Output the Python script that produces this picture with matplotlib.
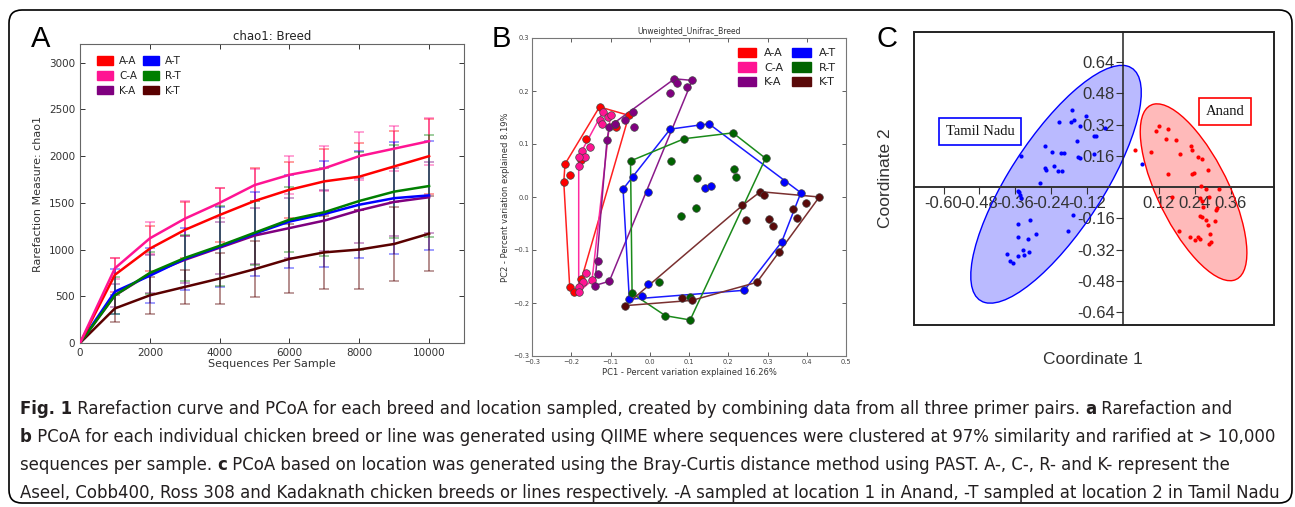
import numpy as np
import matplotlib
matplotlib.use("Agg")
import matplotlib.pyplot as plt
from matplotlib.patches import Ellipse, Rectangle, FancyBboxPatch, Patch
from matplotlib import font_manager

# ---------------- data: panel A (rarefaction) ----------------
seqs = [0, 1000, 2000, 3000, 4000, 5000, 6000, 7000, 8000, 9000, 10000]
groups_a = ["A-A", "C-A", "K-A", "A-T", "R-T", "K-T"]
chao_AA = [0, 730, 1010, 1210, 1370, 1520, 1640, 1730, 1780, 1890, 2000]
chao_CA = [0, 800, 1120, 1330, 1500, 1690, 1800, 1870, 2000, 2080, 2160]
chao_KA = [0, 510, 740, 890, 1020, 1150, 1230, 1310, 1420, 1510, 1560]
chao_AT = [0, 550, 720, 900, 1030, 1170, 1300, 1380, 1480, 1550, 1580]
chao_RT = [0, 510, 750, 910, 1040, 1180, 1320, 1400, 1520, 1620, 1680]
chao_KT = [0, 370, 510, 600, 690, 790, 900, 970, 1000, 1060, 1170]
err_AA = [0, 180, 240, 300, 290, 350, 300, 350, 360, 380, 400]
err_CA = [0, 110, 170, 190, 160, 170, 200, 240, 260, 240, 250]
err_KA = [0, 120, 200, 250, 280, 300, 320, 330, 350, 360, 380]
err_AT = [0, 240, 295, 330, 430, 450, 495, 565, 575, 600, 580]
err_RT = [0, 200, 225, 250, 430, 340, 350, 470, 520, 500, 550]
err_KT = [0, 140, 200, 180, 270, 300, 370, 390, 420, 400, 400]

# ---------------- data: panel B (PCoA per breed) ----------------
pc_AA_x = [-0.128, -0.053, -0.086, -0.162, -0.216, -0.203, -0.219, -0.204, -0.193, -0.174, -0.174, -0.088]
pc_AA_y = [0.170, 0.154, 0.133, 0.110, 0.062, 0.042, 0.028, -0.169, -0.180, -0.155, 0.070, 0.138]
pc_CA_x = [-0.119, -0.106, -0.100, -0.126, -0.121, -0.153, -0.173, -0.164, -0.181, -0.179, -0.162, -0.147, -0.169, -0.179, -0.181]
pc_CA_y = [0.161, 0.151, 0.155, 0.145, 0.138, 0.095, 0.087, 0.076, 0.076, 0.059, -0.143, -0.157, -0.161, -0.169, -0.179]
pc_KA_x = [0.063, 0.069, 0.108, 0.095, 0.051, -0.043, -0.062, -0.039, -0.103, -0.088, -0.109, -0.132, -0.133, -0.140, -0.103]
pc_KA_y = [0.223, 0.216, 0.220, 0.207, 0.196, 0.160, 0.145, 0.133, 0.133, 0.138, 0.107, -0.121, -0.146, -0.167, -0.159]
pc_AT_x = [0.052, 0.129, 0.151, 0.343, 0.385, 0.336, 0.241, 0.141, 0.156, -0.042, -0.068, -0.004, -0.005, -0.052, -0.019]
pc_AT_y = [0.128, 0.136, 0.138, 0.028, 0.008, -0.085, -0.176, 0.017, 0.021, 0.037, 0.015, 0.009, -0.164, -0.193, -0.187]
pc_RT_x = [0.088, 0.212, 0.295, 0.055, 0.120, 0.214, 0.220, 0.119, 0.079, 0.103, -0.049, 0.023, -0.045, 0.040, 0.103]
pc_RT_y = [0.110, 0.121, 0.073, 0.067, 0.035, 0.053, 0.037, -0.021, -0.035, -0.232, 0.068, -0.160, -0.182, -0.224, -0.189]
pc_KT_x = [0.282, 0.290, 0.236, 0.244, 0.305, 0.314, 0.366, 0.399, 0.375, 0.432, 0.329, 0.273, 0.083, 0.108, -0.063]
pc_KT_y = [0.010, 0.003, -0.016, -0.043, -0.042, -0.055, -0.022, -0.011, -0.039, 0.000, -0.103, -0.161, -0.190, -0.195, -0.205]

# ---------------- data: panel C (PCoA by location) ----------------
tn_x = [-0.172, -0.213, -0.175, -0.163, -0.123, -0.145, -0.098, -0.091, -0.262, -0.238, -0.207, -0.198,
        -0.154, -0.149, -0.145, -0.098, -0.341, -0.260, -0.258, -0.232, -0.216, -0.205, -0.279, -0.350,
        -0.347, -0.343, -0.342, -0.167, -0.310, -0.350, -0.351, -0.318, -0.291, -0.183, -0.334, -0.314,
        -0.332, -0.351, -0.388, -0.377, -0.368, -0.060, 0.065]
tn_y = [0.396, 0.333, 0.333, 0.345, 0.362, 0.314, 0.261, 0.261, 0.213, 0.181, 0.176, 0.174,
        0.237, 0.152, 0.147, 0.172, 0.162, 0.097, 0.089, 0.106, 0.085, 0.085, 0.022, -0.017,
        -0.027, -0.041, -0.056, -0.140, -0.169, -0.188, -0.254, -0.266, -0.241, -0.224, -0.323, -0.329,
        -0.346, -0.350, -0.341, -0.379, -0.387, 0.302, 0.119]
an_x = [0.039, 0.092, 0.109, 0.121, 0.152, 0.145, 0.176, 0.191, 0.227, 0.232, 0.252, 0.263, 0.152,
        0.230, 0.236, 0.283, 0.262, 0.279, 0.320, 0.165, 0.258, 0.287, 0.263, 0.315, 0.312, 0.267,
        0.258, 0.265, 0.279, 0.308, 0.283, 0.186, 0.225, 0.241, 0.252, 0.256, 0.290, 0.294, 0.289]
an_y = [0.189, 0.179, 0.288, 0.311, 0.297, 0.246, 0.242, 0.172, 0.212, 0.191, 0.155, 0.143, 0.068,
        0.067, 0.073, 0.090, 0.007, -0.007, -0.010, -0.051, -0.053, -0.049, -0.073, -0.108, -0.119, -0.099,
        -0.145, -0.150, -0.167, -0.171, -0.191, -0.222, -0.256, -0.270, -0.256, -0.263, -0.239, -0.278, -0.290]
# ellipses: centre x, centre y, full width, full height, angle
ell_tn = [-0.224, 0.015, 1.30, 0.34, 68.6]
ell_an = [0.236, -0.026, 0.94, 0.25, -73.7]
xt_c = [-0.60, -0.48, -0.36, -0.24, -0.12, 0.12, 0.24, 0.36]
yt_c = [0.64, 0.48, 0.32, 0.16, -0.16, -0.32, -0.48, -0.64]

# ---------------- styles ----------------
col_a = {"A-A": "#ff0000", "C-A": "#ff1493", "K-A": "#7f007f",
         "A-T": "#0000ff", "R-T": "#007f00", "K-T": "#5a0000"}
col_b_line = {"A-A": "#ff2020", "C-A": "#ff2aa0", "K-A": "#8a1a8a",
              "A-T": "#1a1aff", "R-T": "#1a8a1a", "K-T": "#7a3030"}
col_b_pt = {"A-A": "#ff0000", "C-A": "#ff1493", "K-A": "#800080",
            "A-T": "#0000ff", "R-T": "#006400", "K-T": "#5a0a0a"}

fonts = font_manager.fontManager.ttflist
names = {f.name for f in fonts}
arial = "Liberation Sans" if "Liberation Sans" in names else "DejaVu Sans"
serif = "Liberation Serif" if "Liberation Serif" in names else "DejaVu Serif"
cond = [f for f in fonts if ("condensed" in str(f.stretch).lower() or "Condensed" in f.name
                             or "Narrow" in f.name) and f.style == "normal"]
cond_reg = [f for f in cond if f.weight in (400, "normal", "regular")]
cond_bold = [f for f in cond if f.weight in (700, "bold")]
if cond_reg:
    reg_prop = font_manager.FontProperties(fname=cond_reg[0].fname)
    bold_src = [f for f in cond_bold if f.name == cond_reg[0].name]
    bold_prop = font_manager.FontProperties(fname=bold_src[0].fname) if bold_src else \
        font_manager.FontProperties(fname=cond_reg[0].fname, weight="bold")
    cap_size = 13.2
else:
    reg_prop = font_manager.FontProperties(family="DejaVu Sans")
    bold_prop = font_manager.FontProperties(family="DejaVu Sans", weight="bold")
    cap_size = 11.8

W, H = 1295, 507
fig = plt.figure(figsize=(W / 100, H / 100), dpi=100)

def fbox(l, r, t, b):
    return [l / W, (H - b) / H, (r - l) / W, (b - t) / H]

# outer rounded border
fig.patches.append(FancyBboxPatch((0.09, 0.04), 12.83, 4.93,
                                  boxstyle="round,pad=0,rounding_size=0.13",
                                  transform=fig.dpi_scale_trans, fill=False,
                                  edgecolor="black", linewidth=1.2))

# ================= Panel A =================
axA = fig.add_axes(fbox(80, 464, 44, 343))
series_a = {"A-A": (chao_AA, err_AA), "C-A": (chao_CA, err_CA), "K-A": (chao_KA, err_KA),
            "A-T": (chao_AT, err_AT), "R-T": (chao_RT, err_RT), "K-T": (chao_KT, err_KT)}
for g in ["A-A", "C-A", "K-A", "A-T", "R-T", "K-T"]:
    v, e = series_a[g]
    axA.errorbar(seqs[1:], v[1:], yerr=e[1:], fmt="none", ecolor=col_a[g], alpha=0.45,
                 elinewidth=1.4, capsize=3.5, capthick=1.2, zorder=2)
for g in ["K-T", "K-A", "A-T", "R-T", "A-A", "C-A"]:
    v, e = series_a[g]
    axA.plot(seqs, v, color=col_a[g], lw=1.8, zorder=3)
axA.set_xlim(0, 11000)
axA.set_ylim(0, 3200)
axA.set_xticks([0, 2000, 4000, 6000, 8000, 10000])
axA.set_yticks([0, 500, 1000, 1500, 2000, 2500, 3000])
axA.tick_params(direction="in", top=True, right=True, labelsize=7.5, colors="#333333",
                length=3.5, width=0.7)
for s in axA.spines.values():
    s.set_color("#666666")
    s.set_linewidth(0.8)
axA.set_title("chao1: Breed", fontsize=8.5, color="#222222", pad=3)
axA.set_xlabel("Sequences Per Sample", fontsize=8, color="#333333", labelpad=1)
axA.set_ylabel("Rarefaction Measure: chao1", fontsize=8, color="#333333", labelpad=4)
hA = [Patch(facecolor=col_a[g], edgecolor=col_a[g]) for g in groups_a]
axA.legend(hA, groups_a, ncol=2, loc="upper left", frameon=False, fontsize=7.5,
           handlelength=1.5, handleheight=0.9, columnspacing=0.6, handletextpad=0.6,
           labelspacing=0.45, bbox_to_anchor=(0.02, 0.99), labelcolor="#222222")

# ================= Panel B =================
axB = fig.add_axes(fbox(532, 846, 38, 356))
pcs = {"A-A": (pc_AA_x, pc_AA_y), "C-A": (pc_CA_x, pc_CA_y), "K-A": (pc_KA_x, pc_KA_y),
       "A-T": (pc_AT_x, pc_AT_y), "R-T": (pc_RT_x, pc_RT_y), "K-T": (pc_KT_x, pc_KT_y)}

def hull(xs, ys):
    pts = sorted(set(zip(xs, ys)))
    def cross(o, a, b):
        return (a[0] - o[0]) * (b[1] - o[1]) - (a[1] - o[1]) * (b[0] - o[0])
    lower, upper = [], []
    for p in pts:
        while len(lower) >= 2 and cross(lower[-2], lower[-1], p) <= 0:
            lower.pop()
        lower.append(p)
    for p in reversed(pts):
        while len(upper) >= 2 and cross(upper[-2], upper[-1], p) <= 0:
            upper.pop()
        upper.append(p)
    h = lower[:-1] + upper[:-1]
    h.append(h[0])
    return [p[0] for p in h], [p[1] for p in h]

for g in groups_a:
    hx, hy = hull(*pcs[g])
    axB.plot(hx, hy, color=col_b_line[g], lw=1.1, zorder=2)
for g in groups_a:
    x, y = pcs[g]
    axB.scatter(x, y, s=30, color=col_b_pt[g], edgecolors="#444444", linewidths=0.5, zorder=3)
axB.set_xlim(-0.3, 0.5)
axB.set_ylim(-0.3, 0.3)
axB.set_xticks(np.round(np.arange(-0.3, 0.51, 0.1), 1))
axB.set_yticks(np.round(np.arange(-0.3, 0.31, 0.1), 1))
axB.tick_params(direction="in", top=True, right=True, labelsize=4.8, colors="#444444",
                length=3, width=0.6, pad=2)
for s in axB.spines.values():
    s.set_color("#777777")
    s.set_linewidth(0.8)
axB.set_title("Unweighted_Unifrac_Breed", fontsize=5.5, color="#333333", pad=3)
axB.set_xlabel("PC1 - Percent variation explained 16.26%", fontsize=6, color="#333333", labelpad=2)
axB.set_ylabel("PC2 - Percent variation explained 8.19%", fontsize=6, color="#333333", labelpad=2)
hB = [Patch(facecolor=col_b_pt[g], edgecolor=col_b_pt[g]) for g in groups_a]
axB.legend(hB, groups_a, ncol=2, loc="upper right", frameon=False, fontsize=8,
           handlelength=1.7, handleheight=0.9, columnspacing=0.8, handletextpad=0.7,
           labelspacing=0.35, bbox_to_anchor=(1.0, 1.0), labelcolor="#222222")

# ================= Panel C =================
axC = fig.add_axes(fbox(914, 1274, 32, 325))
axC.set_xlim(-0.699, 0.505)
axC.set_ylim(-0.705, 0.794)
for e, c in [(ell_tn, "#0000ff"), (ell_an, "#ff0000")]:
    axC.add_patch(Ellipse((e[0], e[1]), e[2], e[3], angle=e[4], facecolor=c, alpha=0.27,
                          edgecolor="none", zorder=1))
    axC.add_patch(Ellipse((e[0], e[1]), e[2], e[3], angle=e[4], facecolor="none",
                          edgecolor=c, lw=1.0, zorder=2))
axC.scatter(tn_x, tn_y, s=9, color="#0000ff", zorder=3, linewidths=0)
axC.scatter(an_x, an_y, s=9, color="#ff0000", zorder=3, linewidths=0)
for side in ["top", "right"]:
    axC.spines[side].set_visible(False)
axC.spines["left"].set_position(("data", 0))
axC.spines["bottom"].set_position(("data", 0))
axC.spines["left"].set_color("#222222")
axC.spines["bottom"].set_color("#333333")
axC.spines["left"].set_linewidth(1.1)
axC.spines["bottom"].set_linewidth(1.4)
axC.set_xticks(xt_c)
axC.set_xticklabels(["%.2f" % v for v in xt_c])
axC.set_yticks(yt_c)
axC.set_yticklabels(["%.2f" % v for v in yt_c])
axC.tick_params(direction="out", length=5, width=0.8, colors="#333333", labelsize=12, pad=1)
for lab in axC.get_xticklabels() + axC.get_yticklabels():
    lab.set_fontfamily(arial)
    lab.set_zorder(5)
axC.add_patch(Rectangle((0, 0), 1, 1, transform=axC.transAxes, fill=False,
                        edgecolor="#222222", lw=1.4, clip_on=False, zorder=6))
fig.text(1093 / W, 1 - 360 / H, "Coordinate 1", ha="center", va="center",
         fontsize=12.5, color="#333333", family=arial)
fig.text(885 / W, 1 - 178 / H, "Coordinate 2", ha="center", va="center", rotation=90,
         fontsize=12.5, color="#333333", family=arial)
fig.text(980 / W, 1 - 131.5 / H, "Tamil Nadu", ha="center", va="center", fontsize=10.5,
         family=serif, color="#111111",
         bbox=dict(boxstyle="square,pad=0.45", facecolor="white", edgecolor="#0000ff", lw=1.2))
fig.text(1225 / W, 1 - 111.5 / H, "Anand", ha="center", va="center", fontsize=10.5,
         family=serif, color="#111111",
         bbox=dict(boxstyle="square,pad=0.45", facecolor="white", edgecolor="#ff0000", lw=1.2))

# panel letters
for xl, lt in [(31, "A"), (492, "B"), (876, "C")]:
    fig.text(xl / W, 1 - 47 / H, lt, fontsize=21, family=arial, ha="left", va="baseline",
             color="black")

# ================= caption =================
cap_lines = [
    [("Fig. 1", True), (" Rarefaction curve and PCoA for each breed and location sampled, created by combining data from all three primer pairs. ", False), ("a", True), (" Rarefaction and", False)],
    [("b", True), (" PCoA for each individual chicken breed or line was generated using QIIME where sequences were clustered at 97% similarity and rarified at > 10,000", False)],
    [("sequences per sample. ", False), ("c", True), (" PCoA based on location was generated using the Bray-Curtis distance method using PAST. A-, C-, R- and K- represent the", False)],
    [("Aseel, Cobb400, Ross 308 and Kadaknath chicken breeds or lines respectively. -A sampled at location 1 in Anand, -T sampled at location 2 in Tamil Nadu", False)],
]
y0 = 414
for i, segs in enumerate(cap_lines):
    prev = None
    for txt, bold in segs:
        fp = (bold_prop if bold else reg_prop).copy()
        fp.set_size(cap_size)
        if prev is None:
            prev = fig.text(20 / W, 1 - (y0 + 28 * i) / H, txt, ha="left", va="baseline",
                            fontproperties=fp, color="#231f20")
        else:
            prev = plt.annotate(txt, xy=(1, 0), xycoords=prev, ha="left", va="bottom",
                                annotation_clip=False, fontproperties=fp, color="#231f20")

fig.savefig("out.png", dpi=100)
